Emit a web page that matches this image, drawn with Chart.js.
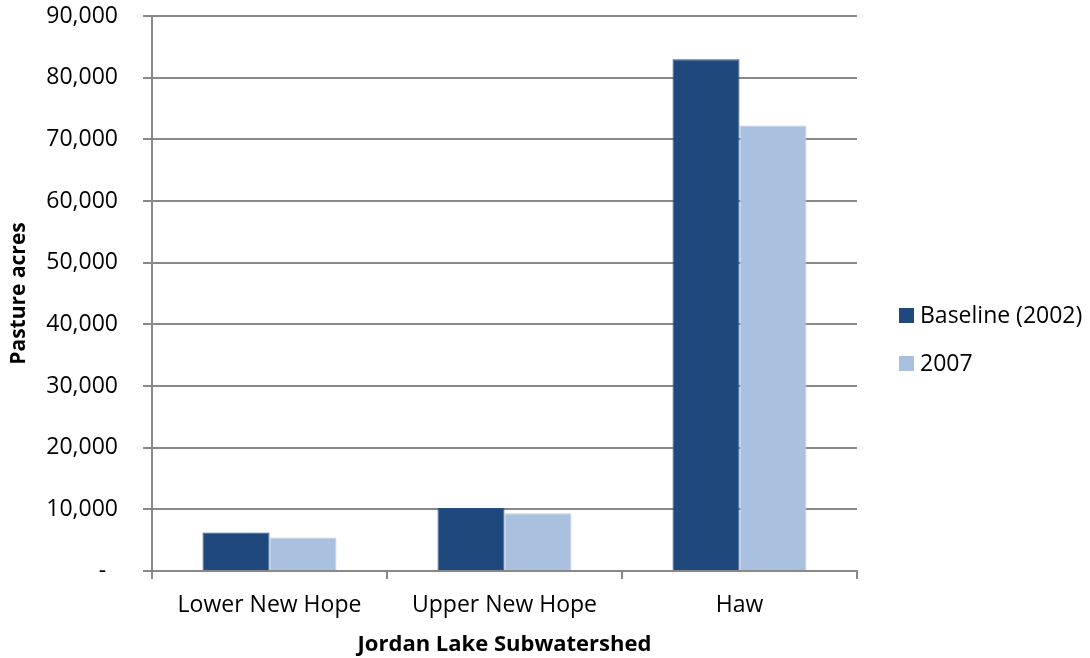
<!DOCTYPE html>
<html>
<head>
<meta charset="utf-8">
<title>Pasture acres by subwatershed</title>
<script src="https://cdn.jsdelivr.net/npm/chart.js@4/dist/chart.umd.min.js"></script>
<style>
  body { margin: 0; background: #fff; }
  #wrap { width: 1090px; height: 658px; }
</style>
</head>
<body>
<div id="wrap"><canvas id="chart1" width="1090" height="658"></canvas></div>
<script>
// Pasture acres per Jordan Lake subwatershed
var subwatersheds = ['Lower New Hope', 'Upper New Hope', 'Haw'];
var baseline2002 = [6250, 10200, 83000];
var year2007 = [5450, 9350, 72250];
var yTicks = [0, 10000, 20000, 30000, 40000, 50000, 60000, 70000, 80000, 90000];

var gridColor = '#888888';
var fontFamily = "'Open Sans', 'Noto Sans', sans-serif";

// Legend on the right, drawn by hand so the gap to the plot can be set freely
var sideLegend = {
    id: 'sideLegend',
    afterDraw: function(chart) {
        var c = chart.ctx;
        var x = chart.chartArea.right + 42;
        var y = 316;
        c.save();
        c.font = '23px ' + fontFamily;
        c.textBaseline = 'middle';
        c.textAlign = 'left';
        chart.data.datasets.forEach(function(ds, i) {
            var yy = y + i * 48;
            c.fillStyle = ds.backgroundColor;
            c.fillRect(x, yy - 8, 15, 15);
            c.fillStyle = '#000';
            c.fillText(ds.label, x + 21, yy);
        });
        c.restore();
    }
};

var ctx1 = document.getElementById('chart1').getContext('2d');
var chart1 = new Chart(ctx1, {
    type: 'bar',
    data: {
        labels: subwatersheds,
        datasets: [{
            label: 'Baseline (2002)',
            data: baseline2002,
            backgroundColor: '#1F497D',
            borderColor: '#2A5384',
            borderWidth: 1
        }, {
            label: '2007',
            data: year2007,
            backgroundColor: '#A9C0DF',
            borderColor: '#B9CDE8',
            borderWidth: 1
        }]
    },
    options: {
        responsive: false,
        animation: false,
        layout: { padding: { top: 0, right: 233, bottom: 0, left: 6 } },
        datasets: {
            bar: { barPercentage: 1, categoryPercentage: 0.57 }
        },
        scales: {
            x: {
                afterFit: function(scale) {
                    scale.height = 87;
                },
                grid: {
                    offset: true,
                    drawOnChartArea: false,
                    color: gridColor,
                    lineWidth: 2,
                    tickLength: 8
                },
                border: { color: gridColor, width: 2 },
                ticks: {
                    color: '#000',
                    padding: 13,
                    font: { family: fontFamily, size: 23 }
                },
                title: {
                    display: true,
                    text: 'Jordan Lake Subwatershed',
                    color: '#000',
                    padding: { top: 10, bottom: 0 },
                    font: { family: fontFamily, size: 22, weight: 'bold' }
                }
            },
            y: {
                min: 0,
                max: 90000,
                afterBuildTicks: function(scale) {
                    scale.ticks = yTicks.map(function(v) { return { value: v }; });
                },
                afterFit: function(scale) {
                    scale.width = 146;
                    scale.paddingTop = 16;
                    scale.paddingBottom = 0;
                },
                grid: {
                    color: gridColor,
                    lineWidth: 2,
                    tickLength: 9
                },
                border: { color: gridColor, width: 2 },
                ticks: {
                    color: '#000',
                    padding: 25,
                    font: { family: fontFamily, size: 23 },
                    callback: function(value) {
                        return value === 0 ? '-  ' : value.toLocaleString('en-US');
                    }
                },
                title: {
                    display: true,
                    text: 'Pasture acres',
                    color: '#000',
                    padding: { top: 0, bottom: 0 },
                    font: { family: fontFamily, size: 21, weight: 'bold' }
                }
            }
        },
        plugins: {
            legend: { display: false },
            tooltip: { enabled: false }
        }
    },
    plugins: [sideLegend]
});
</script>
</body>
</html>
